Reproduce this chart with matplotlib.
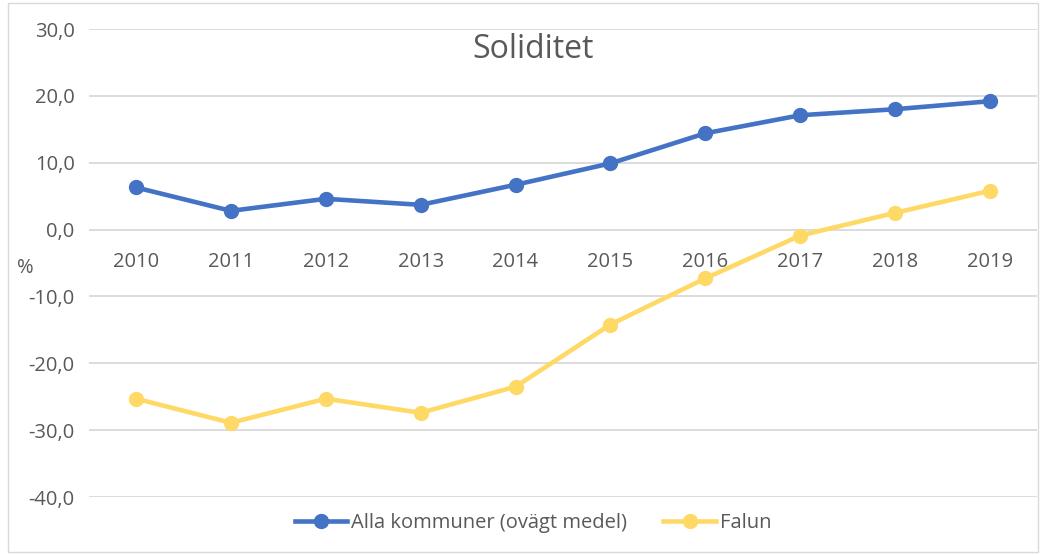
import matplotlib.pyplot as plt
from matplotlib.patches import Rectangle

years = ["2010", "2011", "2012", "2013", "2014", "2015", "2016", "2017", "2018", "2019"]
alla = [6.3, 2.8, 4.6, 3.7, 6.7, 9.9, 14.4, 17.1, 18.0, 19.2]
falun = [-25.3, -28.9, -25.3, -27.4, -23.5, -14.2, -7.3, -0.9, 2.5, 5.8]

plt.rcParams['font.family'] = ['Open Sans', 'DejaVu Sans']
txt = "#595959"
grid = "#d9d9d9"

fig = plt.figure(figsize=(10.42, 5.55), dpi=100)
fig.patches.append(Rectangle((8/1042, 3/555), 1030/1042, 549/555, transform=fig.transFigure,
                             fill=False, edgecolor=grid, linewidth=1))
ax = fig.add_axes([88.6/1042, 1-497/555, (1037.4-88.6)/1042, (497-29)/555])

x = range(len(years))
ax.plot(x, alla, color="#4472C4", linewidth=3.3, marker="o", markersize=10,
        label="Alla kommuner (ovägt medel)", zorder=3)
ax.plot(x, falun, color="#FFD966", linewidth=3.3, marker="o", markersize=10,
        label="Falun", zorder=3)

ax.set_xlim(-0.5, 9.5)
ax.set_ylim(-40, 30)
ax.set_yticks(range(-40, 31, 10))
ax.set_yticklabels([f"{v},0" for v in range(-40, 31, 10)])
ax.set_xticks(list(x))
ax.set_xticklabels(years)
ax.grid(axis="y", color=grid, linewidth=1.3)
ax.set_axisbelow(True)
for s in ["top", "right", "left", "bottom"]:
    ax.spines[s].set_visible(False)
ax.spines["bottom"].set_position(("data", 0))
ax.tick_params(axis="x", length=0, pad=16, labelsize=14.5, labelcolor=txt)
ax.tick_params(axis="y", length=0, pad=10, labelsize=14.5, labelcolor=txt)

fig.text(533/1042, 1-50/555, "Soliditet", ha="center", va="center",
         fontsize=23, color=txt)
fig.text(25/1042, 1-268/555, "%", ha="center", va="center", fontsize=14.5, color=txt)

leg = fig.legend(loc="center", bbox_to_anchor=(533/1042, 1-523/555), ncol=2, frameon=False,
                 fontsize=14.5, handlelength=2.6, columnspacing=1.8, handletextpad=0.2)
for t in leg.get_texts():
    t.set_color(txt)

plt.savefig("out.png", dpi=100)
